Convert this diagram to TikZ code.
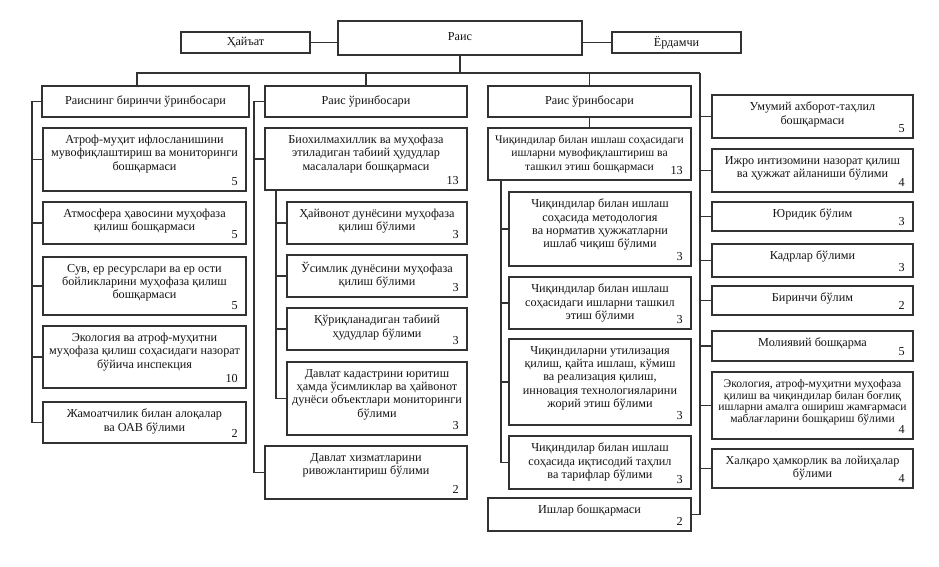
\documentclass[tikz,border=0pt]{standalone}
\usepackage{fontspec}
\setmainfont{Liberation Serif}
\definecolor{ln}{RGB}{50,50,50}
\definecolor{tx}{RGB}{20,20,20}
\tikzset{
  obx/.style={draw=ln, line width=1.35pt, rectangle, inner sep=0pt, outer sep=0pt, fill=white},
  otxt/.style={inner sep=0pt, align=center, text=tx, font=\fontsize{12.2}{13.3}\selectfont},
  onum/.style={inner sep=0pt, text=tx, font=\fontsize{12.2}{13.3}\selectfont},
  conn/.style={draw=ln, line width=1.35pt},
  small/.style={font=\fontsize{11.6}{11.8}\selectfont},
}
% [text style], name, x1, y1, x2, y2, text, number
\newcommand\obox[8][]{%
  \node[obx, minimum width={(#5)-(#3)}, minimum height={(#6)-(#4)}, anchor=north west] (#2) at (#3,#4) {};
  \node[otxt, #1, anchor=north] (#2-t) at ([yshift=-7pt]#2.north) {#7};
  \node[onum, anchor=south east] (#2-n) at ([xshift=-8pt,yshift=5pt]#2.south east) {#8};
}
% name, x1, y1, x2, y2, text (centred)
\newcommand\cbox[6]{%
  \node[obx, minimum width={(#4)-(#2)}, minimum height={(#5)-(#3)}, anchor=north west] (#1) at (#2,#3) {};
  \node[otxt] (#1-t) at (#1.center) {#6};
}
\begin{document}
\begin{tikzpicture}[x=1pt,y=-1pt]
\useasboundingbox (0,0) rectangle (939,567);

% top row
\cbox{hayat}{181}{32}{310}{53}{Ҳайъат}
\node[obx, minimum width=244, minimum height=34, anchor=north west] (rais) at (338,21) {};
\node[otxt] (rais-t) at ([yshift=-16pt]rais.north) {Раис};
\cbox{yordam}{612}{32}{741}{53}{Ёрдамчи}

% deputies
\cbox{box1}{42}{86}{249}{117}{Раиснинг биринчи ўринбосари}
\cbox{box2}{265}{86}{467}{117}{Раис ўринбосари}
\cbox{box3}{488}{86}{691}{117}{Раис ўринбосари}

% column 1
\obox{A1}{43}{128}{246}{191}{Атроф-муҳит ифлосланишини\\мувофиқлаштириш ва мониторинги\\бошқармаси}{5}
\obox{A2}{43}{202}{246}{244}{Атмосфера ҳавосини муҳофаза\\қилиш бошқармаси}{5}
\obox{A3}{43}{257}{246}{315}{Сув, ер ресурслари ва ер ости\\бойликларини муҳофаза қилиш\\бошқармаси}{5}
\obox{A4}{43}{326}{246}{388}{Экология ва атроф-муҳитни\\муҳофаза қилиш соҳасидаги назорат\\бўйича инспекция}{10}
\obox{A5}{43}{402}{246}{443}{Жамоатчилик билан алоқалар\\ва ОАВ бўлими}{2}

% column 2
\obox{B1}{265}{128}{467}{190}{Биохилмахиллик ва муҳофаза\\этиладиган табиий ҳудудлар\\масалалари бошқармаси}{13}
\obox{B2}{287}{202}{467}{244}{Ҳайвонот дунёсини муҳофаза\\қилиш бўлими}{3}
\obox{B3}{287}{255}{467}{297}{Ўсимлик дунёсини муҳофаза\\қилиш бўлими}{3}
\obox{B4}{287}{308}{467}{350}{Қўриқланадиган табиий\\ҳудудлар бўлими}{3}
\obox{B5}{287}{362}{467}{435}{Давлат кадастрини юритиш\\ҳамда ўсимликлар ва ҳайвонот\\дунёси объектлари мониторинги\\бўлими}{3}
\obox{B6}{265}{446}{467}{499}{Давлат хизматларини\\ривожлантириш бўлими}{2}

% column 3
\obox[font=\fontsize{11.6}{13.3}\selectfont]{C1}{488}{128}{691}{180}{Чиқиндилар билан ишлаш соҳасидаги\\ишларни мувофиқлаштириш ва\\ташкил этиш бошқармаси}{13}
\obox{C2}{509}{192}{691}{266}{Чиқиндилар билан ишлаш\\соҳасида методология\\ва норматив ҳужжатларни\\ишлаб чиқиш бўлими}{3}
\obox{C3}{509}{277}{691}{329}{Чиқиндилар билан ишлаш\\соҳасидаги ишларни ташкил\\этиш бўлими}{3}
\obox{C4}{509}{339}{691}{425}{Чиқиндиларни утилизация\\қилиш, қайта ишлаш, кўмиш\\ва реализация қилиш,\\инновация технологияларини\\жорий этиш бўлими}{3}
\obox{C5}{509}{436}{691}{489}{Чиқиндилар билан ишлаш\\соҳасида иқтисодий таҳлил\\ва тарифлар бўлими}{3}
\obox{D}{488}{498}{691}{531}{Ишлар бошқармаси}{2}

% right column
\obox{R1}{712}{95}{913}{138}{Умумий ахборот-таҳлил\\бошқармаси}{5}
\obox{R2}{712}{149}{913}{192}{Ижро интизомини назорат қилиш\\ва ҳужжат айланиши бўлими}{4}
\obox{R3}{712}{202}{913}{231}{Юридик бўлим}{3}
\obox{R4}{712}{244}{913}{277}{Кадрлар бўлими}{3}
\obox{R5}{712}{286}{913}{315}{Биринчи бўлим}{2}
\obox{R6}{712}{331}{913}{361}{Молиявий бошқарма}{5}
\obox[small]{R7}{712}{372}{913}{439}{Экология, атроф-муҳитни муҳофаза\\қилиш ва чиқиндилар билан боғлиқ\\ишларни амалга ошириш жамғармаси\\маблағларини бошқариш бўлими}{4}
\obox{R8}{712}{449}{913}{488}{Халқаро ҳамкорлик ва лойиҳалар\\бўлими}{4}

% helper coordinates
\coordinate (busL) at (137,73);
\coordinate (busR) at (700,73);
\coordinate (s1) at (32,0);
\coordinate (s2) at (254,0);
\coordinate (s2b) at (276,0);
\coordinate (s3) at (501,0);

% connectors
\draw[conn] (hayat.east) -- (hayat.east -| rais.west);
\draw[conn] (yordam.west) -- (yordam.west -| rais.east);
\draw[conn] (rais.south) -- (rais.south |- busL);
\draw[conn] (busL |- box1.north) -- (busL) -- (busR);
\draw[conn] (box2.north) -- (box2.north |- busL);
\draw[conn] (box3.north) -- (box3.north |- busL);
\draw[conn] (busR) |- (D.east);

\draw[conn] (box1.west) -| (s1 |- A5.west) -- (A5.west);
\foreach \n in {A1,A2,A3,A4} \draw[conn] (\n.west) -- (\n.west -| s1);

\draw[conn] (box2.west) -| (s2 |- B6.west) -- (B6.west);
\draw[conn] (B1.west) -- (B1.west -| s2);
\draw[conn] (s2b |- B1.south) -- (s2b |- B5.west) -- (B5.west);
\foreach \n in {B2,B3,B4} \draw[conn] (\n.west) -- (\n.west -| s2b);

\draw[conn] (box3.south) -- (C1.north);
\draw[conn] (s3 |- C1.south) -- (s3 |- C5.west) -- (C5.west);
\foreach \n in {C2,C3,C4} \draw[conn] (\n.west) -- (\n.west -| s3);

\foreach \n in {R1,R2,R3,R4,R5,R6,R7,R8} \draw[conn] (\n.west) -- (\n.west -| busR);
\end{tikzpicture}
\end{document}
